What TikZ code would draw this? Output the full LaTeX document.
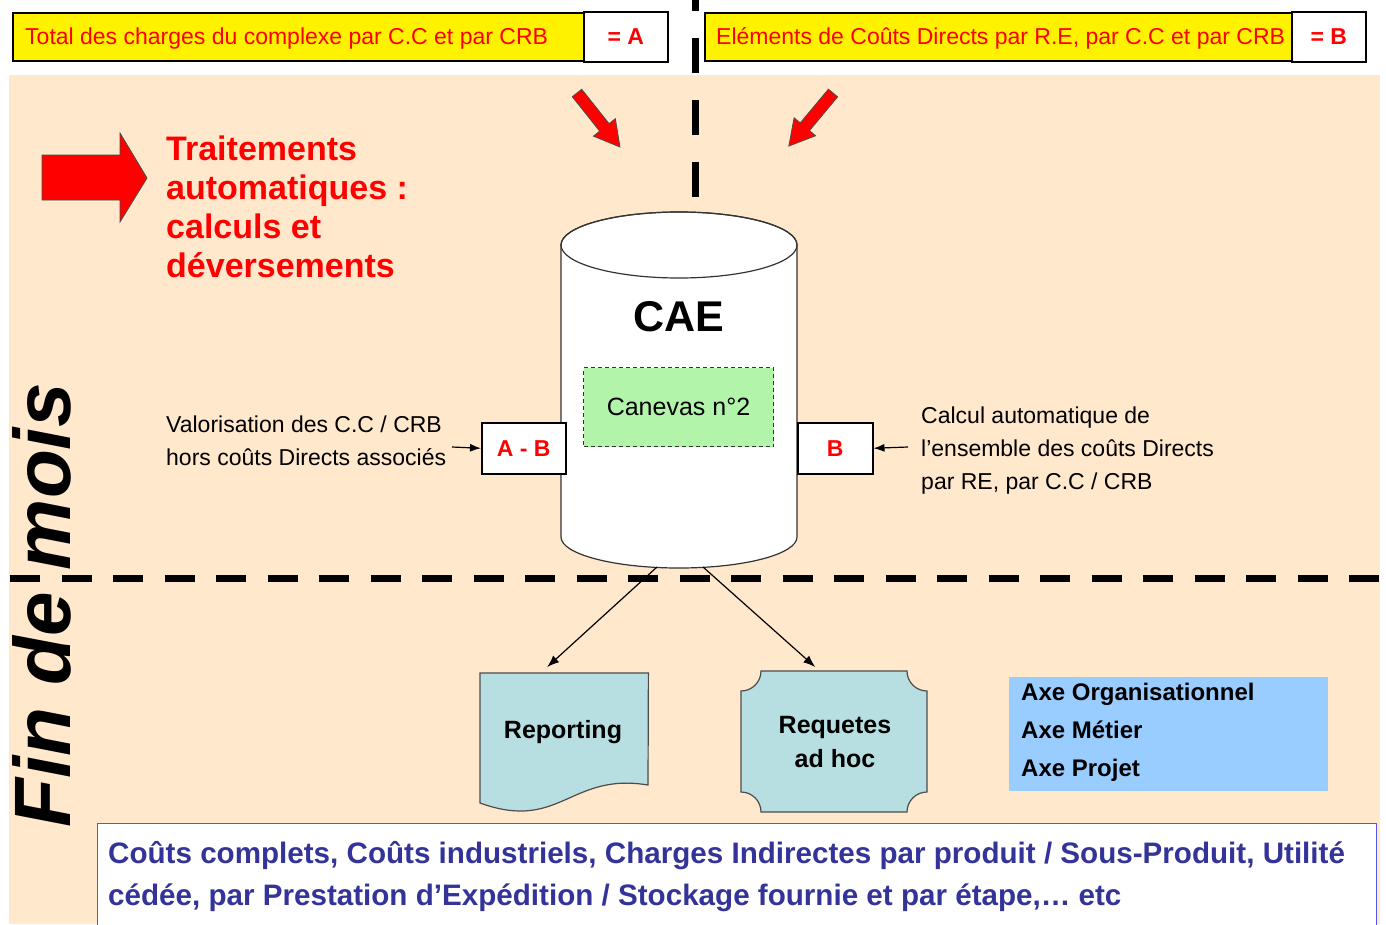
\documentclass[tikz,border=0pt]{standalone}
\usepackage{fontspec}
\setmainfont{Liberation Sans}
\usetikzlibrary{arrows.meta}

\definecolor{peach}{HTML}{FFE8CC}
\definecolor{docblue}{HTML}{B7DFE2}
\definecolor{axeblue}{HTML}{99CCFF}
\definecolor{canevasgreen}{HTML}{B2F5AA}
\definecolor{framablue}{HTML}{5555EE}
\definecolor{textblue}{HTML}{333399}

\newcommand\setfs[2]{\fontsize{#1}{#2}\selectfont}

\tikzset{
  ybox/.style={draw=black, line width=1.5pt, fill=yellow, anchor=north west, inner sep=0pt},
  wbox/.style={draw=black, line width=1.5pt, fill=white, anchor=north west, inner sep=0pt,
               text=red, font=\bfseries\setfs{23}{27}},
  redtxt/.style={text=red, font=\setfs{23}{27}, anchor=base west, inner sep=0pt},
  plain/.style={font=\setfs{23}{33}, anchor=base west, inner sep=0pt, align=left},
  conn/.style={line width=1.2pt, -{Latex[length=11pt, width=8pt]}},
  outconn/.style={line width=1.2pt, -{Latex[length=12pt, width=9pt]}},
  blockarrow/.style={fill=red, draw=black!70, line width=0.8pt, line join=miter},
  sepline/.style={line width=7pt},
  flowshape/.style={fill=docblue, draw=black!70, line width=1.2pt},
}

\begin{document}
\begin{tikzpicture}[x=1pt, y=-1pt]
\useasboundingbox (0,0) rectangle (1386,924);

% background zones
\fill[white] (0,0) rectangle (1386,924);
\fill[peach] (9,75) rectangle (1380,924);

% top headers
\node[ybox, minimum width=571pt, minimum height=48pt] (boxA) at (12,12) {};
\node[wbox, minimum width=84pt, minimum height=50pt] (eqA) at (583,11) {= A};
\node[redtxt] (txtA) at (25,44) {Total des charges du complexe par C.C et par CRB};

\node[ybox, minimum width=587pt, minimum height=48pt] (boxB) at (704,12) {};
\node[wbox, minimum width=74pt, minimum height=50pt] (eqB) at (1291,11) {= B};
\node[redtxt] (txtB) at (716,44) {Eléments de Coûts Directs par R.E, par C.C et par CRB};

% vertical separator between the two sources
\draw[sepline, dash pattern=on 35pt off 27pt] (695,197) -- (695,-30);

% red block arrow and the processing caption
\filldraw[blockarrow] (42,155) -- (120,155) -- (120,133) -- (147,178) -- (120,222)
  -- (120,200) -- (42,200) -- cycle;
\node[text=red, font=\bfseries\setfs{34}{39}, anchor=north west, inner sep=0pt, align=left]
  (trait) at (166,136) {Traitements\\automatiques :\\calculs et\\déversements};

% two feeding arrows
\begin{scope}[shift={(577,93)}, rotate=-51.5]
  \filldraw[blockarrow] (0,-6) -- (44,-6) -- (44,-14) -- (69,0) -- (44,14) -- (44,6) -- (0,6) -- cycle;
\end{scope}
\begin{scope}[shift={(833,93)}, rotate=-129.8]
  \filldraw[blockarrow] (0,-6) -- (44,-6) -- (44,-14) -- (69,0) -- (44,14) -- (44,6) -- (0,6) -- cycle;
\end{scope}

% CAE database cylinder
\filldraw[fill=white, draw=black!80, line width=1.2pt]
  (561,245) -- (561,537) arc[start angle=180, end angle=360, x radius=118pt, y radius=31pt]
  -- (797,245) arc[start angle=0, end angle=180, x radius=118pt, y radius=33pt] -- cycle;
\draw[black!80, line width=1.2pt] (679,245) ellipse[x radius=118pt, y radius=33pt];
\node[font=\bfseries\setfs{43}{48}] (cae) at (679,317) {CAE};
\coordinate (cylBL) at (657,567);
\coordinate (cylBR) at (703,567);

\node[draw=black!80, line width=1pt, dash pattern=on 4pt off 3pt, fill=canevasgreen,
      minimum width=190pt, minimum height=79pt, anchor=north west, inner sep=0pt,
      font=\setfs{25}{29}] (canevas) at (583,367) {Canevas n°2};

% inputs on both sides of the cylinder
\node[wbox, minimum width=84pt, minimum height=51pt] (ab) at (481,422) {A - B};
\node[wbox, minimum width=75pt, minimum height=51pt] (bb) at (797,422) {B};

\node[plain] (valo) at (166,465) {Valorisation des C.C / CRB\\hors coûts Directs associés};
\node[plain] (calc) at (921,489) {Calcul automatique de\\l’ensemble des coûts Directs\\par RE, par C.C / CRB};
\coordinate (abIn) at (452,447);
\coordinate (bIn) at (908,447);
\draw[conn] (abIn) -- (ab.west);
\draw[conn] (bIn) -- (bb.east);

% end-of-month separator
\draw[sepline, dash pattern=on 30pt off 21.5pt] (10,578) -- (1380,578);

% outputs
\node[minimum width=168pt, minimum height=112pt, anchor=north west, inner sep=0pt] (rep) at (480,673) {};
\filldraw[flowshape] (rep.north west) -- (rep.north east) -- (648,785)
  .. controls (570,772) and (560,832) .. (480,803) -- cycle;
\node[font=\bfseries\setfs{25}{29}] (reptxt) at (563,732) {Reporting};

\node[minimum width=186pt, minimum height=141pt, anchor=north west, inner sep=0pt] (req) at (741,671) {};
\filldraw[flowshape] (761,671) -- (907,671)
  arc[start angle=180, end angle=270, radius=20pt] -- (927,792)
  arc[start angle=90, end angle=180, radius=20pt] -- (761,812)
  arc[start angle=0, end angle=90, radius=20pt] -- (741,691)
  arc[start angle=270, end angle=360, radius=20pt] -- cycle;
\node[font=\bfseries\setfs{25}{34}, align=center] (reqtxt) at (835,742) {Requetes\\ad hoc};

\draw[outconn] (cylBL) -- ([xshift=-17pt, yshift=6pt]rep.north);
\draw[outconn] (cylBR) -- ([xshift=-19pt, yshift=4pt]req.north);

% analysis axes
\node[fill=axeblue, minimum width=319pt, minimum height=114pt, anchor=north west, inner sep=0pt] (axe) at (1009,677) {};
\node[font=\bfseries\setfs{24}{38}, anchor=north west, inner sep=0pt, align=left] (axetxt) at (1021,683)
  {Axe Organisationnel\\Axe Métier\\Axe Projet};

% results frame
\node[draw=framablue, line width=1.2pt, fill=white, minimum width=1279pt, minimum height=120pt,
      anchor=north west, inner sep=0pt] (results) at (97,823) {};
\node[text=textblue, font=\bfseries\setfs{29.6}{42}, anchor=base west, inner sep=0pt, align=left] (restxt) at (108,905)
  {Coûts complets, Coûts industriels, Charges Indirectes par produit / Sous-Produit, Utilité\\
   cédée, par Prestation d’Expédition / Stockage fournie et par étape,… etc};

% vertical period label
\node[rotate=90, anchor=base west, inner sep=0pt, font=\bfseries\itshape\setfs{80}{84}] (fdm) at (70,828) {Fin de mois};

\end{tikzpicture}
\end{document}
